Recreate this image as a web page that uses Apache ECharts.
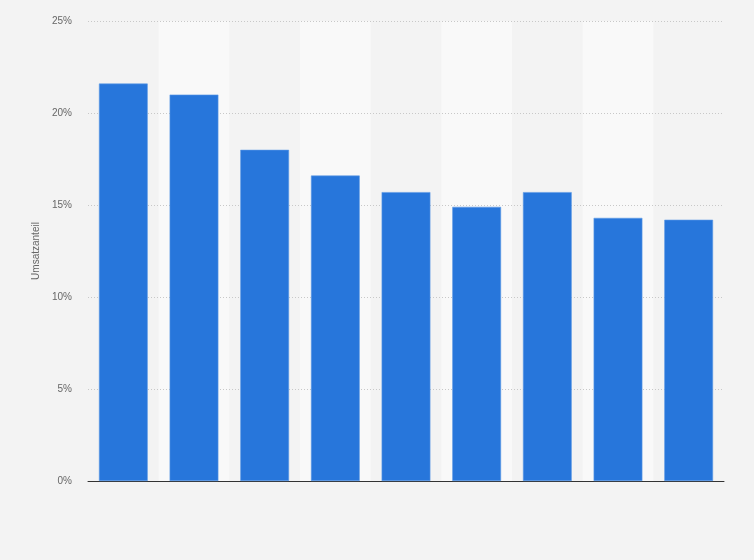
<!DOCTYPE html>
<html>
<head>
<meta charset="utf-8">
<script src="https://cdn.jsdelivr.net/npm/echarts@6/dist/echarts.min.js"></script>
<style>
html,body{margin:0;padding:0;background:#f3f3f3;}
#c{width:754px;height:560px;}
</style>
</head>
<body>
<div id="c"></div>
<script>
const categories = ['1','2','3','4','5','6','7','8','9'];
const values = [21.6, 21.0, 18.0, 16.6, 15.7, 14.9, 15.7, 14.3, 14.2];
const yTicks = [0, 5, 10, 15, 20, 25];
const yAxisName = 'Umsatzanteil';

const chart = echarts.init(document.getElementById('c'), null, {renderer: 'canvas'});
chart.setOption({
  backgroundColor: '#f3f3f3',
  animation: false,
  grid: {left: 88, right: 30, top: 21, bottom: 79, containLabel: false},
  xAxis: {
    type: 'category',
    data: categories,
    z: 0,
    axisLine: {show: true, lineStyle: {color: '#333', width: 1}},
    axisTick: {show: false},
    axisLabel: {show: false},
    splitLine: {show: false},
    splitArea: {show: true, areaStyle: {color: ['rgba(0,0,0,0)', '#f9f9f9']}}
  },
  yAxis: {
    type: 'value',
    z: 1,
    min: yTicks[0],
    max: yTicks[yTicks.length - 1],
    interval: 5,
    name: yAxisName,
    nameLocation: 'middle',
    nameGap: 44,
    nameTextStyle: {color: '#666', fontSize: 10, fontFamily: 'Liberation Sans, Arial, sans-serif'},
    axisLine: {show: false},
    axisTick: {show: false},
    axisLabel: {formatter: '{value}%', color: '#666', fontSize: 10, margin: 16, fontFamily: 'Liberation Sans, Arial, sans-serif'},
    splitLine: {show: true, showMinLine: false, lineStyle: {color: '#c8c8c8', type: [1, 2], width: 1}}
  },
  series: [{
    type: 'bar',
    z: 2,
    data: values,
    barWidth: '69%',
    itemStyle: {color: '#2776db', borderColor: '#5e9ae6', borderWidth: 0.6}
  }]
});
</script>
</body>
</html>
